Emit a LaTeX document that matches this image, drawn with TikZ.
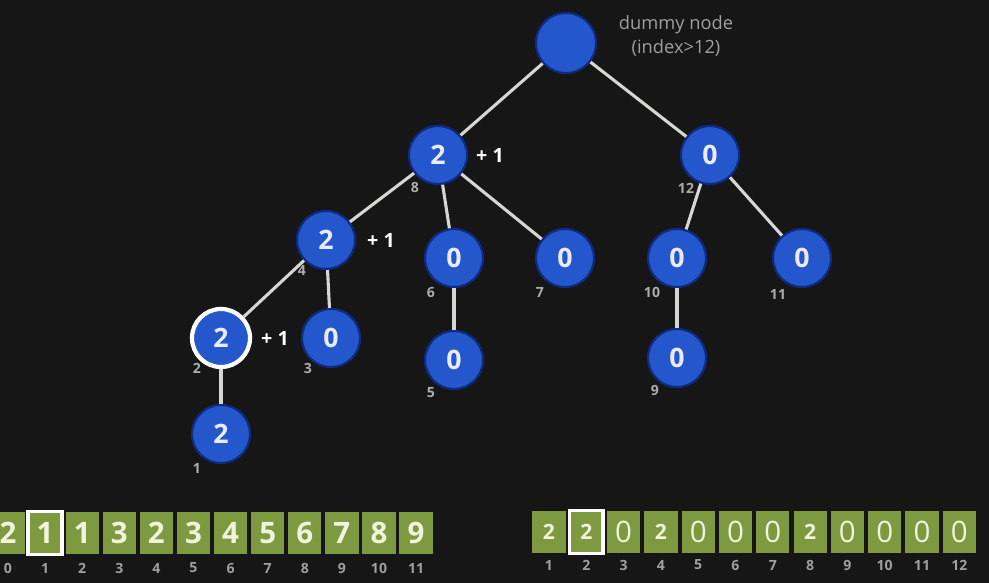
\documentclass[tikz,border=0pt]{standalone}
\usepackage{fontspec}
\setmainfont{Open Sans}
\usetikzlibrary{positioning}

\definecolor{bgdark}{RGB}{22,22,22}
\definecolor{treeblue}{RGB}{36,86,204}
\definecolor{rimblue}{RGB}{16,42,128}
\definecolor{cellgreen}{RGB}{125,154,64}
\definecolor{digitcream}{RGB}{240,244,222}
\definecolor{edgegray}{RGB}{214,214,210}

\tikzset{
  treenode/.style={circle, fill=treeblue, draw=rimblue, line width=1.5pt,
    minimum size=1.45cm, inner sep=0pt, text=white!92!blue,
    font=\bfseries\fontsize{19}{19}\selectfont},
  marked/.style={draw=white, line width=3pt},
  idx/.style={text=gray!65!white, inner sep=0pt,
    font=\bfseries\fontsize{10}{10}\selectfont},
  plusone/.style={text=white, inner sep=0pt,
    font=\bfseries\fontsize{14}{14}\selectfont},
  cell/.style={fill=cellgreen, minimum width=0.83cm, minimum height=1.07cm,
    inner sep=0pt, text=digitcream, font=\bfseries\fontsize{21}{21}\selectfont},
  cellmark/.style={draw=white, line width=2.5pt},
  link/.style={draw=edgegray, line width=2.2pt},
}

\begin{document}
\begin{tikzpicture}[x=0.025cm, y=-0.025cm]
\fill[bgdark] (0,0) rectangle (989,583);
\clip (0,0) rectangle (989,583);

% tree
\node[treenode, minimum size=1.5cm] (dummy) at (566,43) {};
\node[text=gray!75!white, align=center, font=\fontsize{13}{16.4}\selectfont]
  (dummytext) at (676,36) {dummy node\\(index>12)};

\node[treenode] (n8) at (438,155) {2};
\node[treenode] (n12) at (710,155) {0};
\node[treenode] (n4) at (326,240) {2};
\node[treenode] (n6) at (454,258) {0};
\node[treenode] (n7) at (565,258) {0};
\node[treenode] (n10) at (677,258) {0};
\node[treenode] (n11) at (802,258) {0};
\node[treenode, marked] (n2) at (221,338) {2};
\node[treenode] (n3) at (331,338) {0};
\node[treenode] (n5) at (454,360) {0};
\node[treenode] (n9) at (677,358) {0};
\node[treenode] (n1) at (221,434) {2};

\draw[link] (dummy) -- (n8);
\draw[link] (dummy) -- (n12);
\draw[link] (n8) -- (n4);
\draw[link] (n8) -- (n6);
\draw[link] (n8) -- (n7);
\draw[link] (n4) -- (n2);
\draw[link] (n4) -- (n3);
\draw[link] (n2) -- (n1);
\draw[link] (n6) -- (n5);
\draw[link] (n12) -- (n10);
\draw[link] (n12) -- (n11);
\draw[link] (n10) -- (n9);

% index under each node
\node[idx] (i8) at (415,187) {8};
\node[idx] (i12) at (686,188) {12};
\node[idx] (i4) at (302,270) {4};
\node[idx] (i6) at (431,292) {6};
\node[idx] (i7) at (540,292) {7};
\node[idx] (i10) at (652,292) {10};
\node[idx] (i11) at (778,294) {11};
\node[idx] (i2) at (197,368) {2};
\node[idx] (i3) at (308,368) {3};
\node[idx] (i5) at (431,393) {5};
\node[idx] (i9) at (655,390) {9};
\node[idx] (i1) at (197,468) {1};

\node[plusone] (p8) at (490,155) {+ 1};
\node[plusone] (p4) at (381,240) {+ 1};
\node[plusone] (p2) at (275,338) {+ 1};

% left array
\foreach \v [count=\i from 0] in {2,1,1,3,2,3,4,5,6,7,8,9} {
  \node[cell] (a\i) at (8+37.1*\i,533) {\v};
  \node[idx, text=gray!75!white] (ai\i) at (8+37.1*\i,568) {\i};
}
\draw[cellmark] (a1.south west) rectangle (a1.north east);

% right array
\foreach \v [count=\i] in {2,2,0,2,0,0,0,2,0,0,0,0} {
  \node[cell] (b\i) at (549+37.3*\i-37.3,532)
    {\ifnum\v=0 {\mdseries 0}\else{\fontsize{15}{15}\selectfont 2}\fi};
  \node[idx, text=gray!75!white] (bi\i) at (549+37.3*\i-37.3,565) {\i};
}
\draw[cellmark] (b2.south west) rectangle (b2.north east);
\end{tikzpicture}
\end{document}
